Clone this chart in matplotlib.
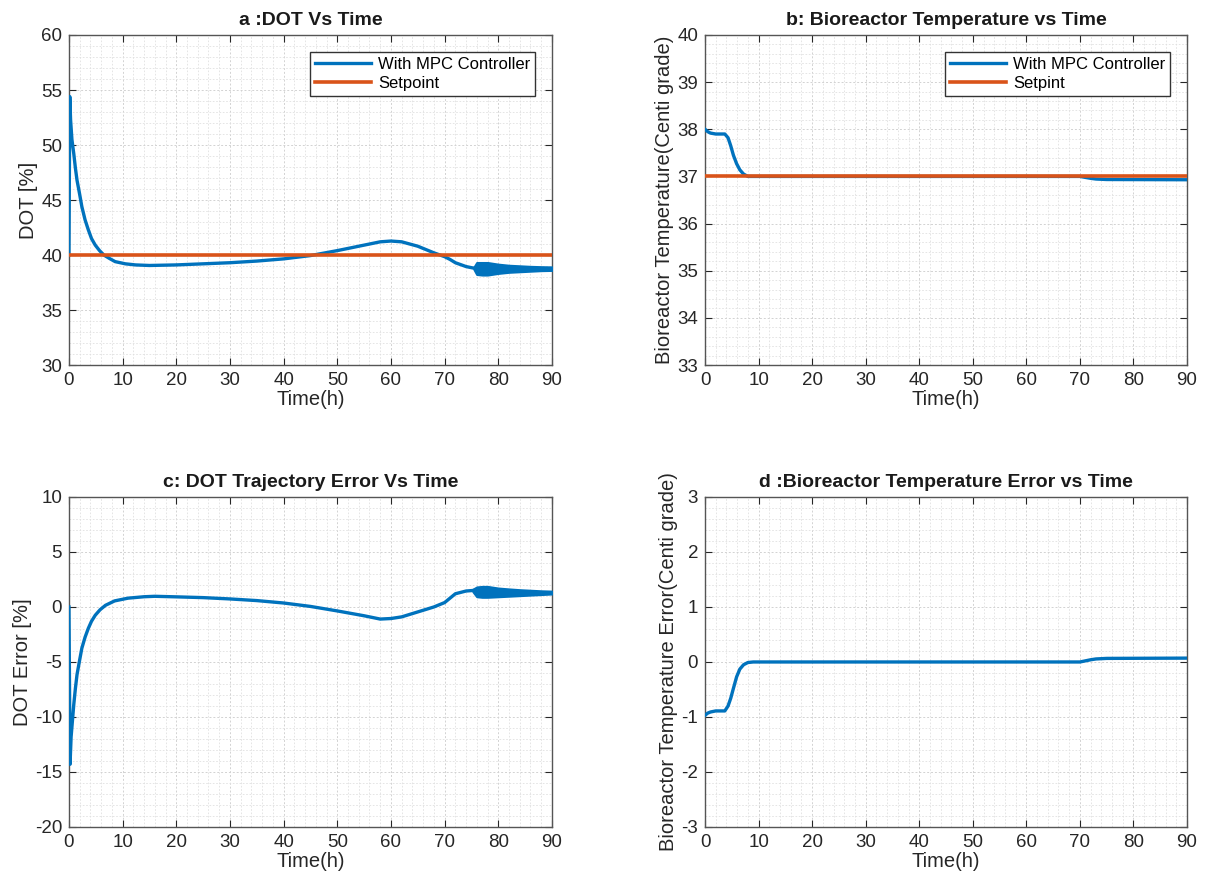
import numpy as np
import matplotlib
matplotlib.use("Agg")
import matplotlib.pyplot as plt
from matplotlib.ticker import MultipleLocator

plt.rcParams["font.family"] = ["Liberation Sans", "DejaVu Sans"]
plt.rcParams["axes.unicode_minus"] = False

BLUE = "#0072BD"
ORANGE = "#D95319"

# a : DOT vs time
dot_time = [0, 0.15, 0.3, 0.55, 0.9, 1.2, 1.5, 2.0, 2.4, 3.0, 3.6, 4.2, 4.9, 5.7, 6.5, 7.5,
            8.6, 10.5, 12.4, 15, 20, 25, 30, 35, 40, 45, 50, 55, 58, 60, 62, 65, 68, 70,
            71, 72, 74, 75.5]
dot_values = [40, 54.4, 52.3, 50.5, 49.2, 47.9, 46.8, 45.5, 44.4, 43.2, 42.3, 41.5, 40.9,
              40.4, 40.0, 39.7, 39.4, 39.2, 39.1, 39.05, 39.1, 39.2, 39.3, 39.45, 39.65,
              39.95, 40.4, 40.9, 41.2, 41.27, 41.2, 40.8, 40.2, 39.85, 39.6, 39.3, 38.95, 38.8]
# oscillating part after ~75 h (envelope of the noisy band)
dot_band_time = [75.5, 76, 77, 78, 80, 82, 84, 86, 88, 90]
dot_band_low = [38.7, 38.25, 38.2, 38.2, 38.35, 38.45, 38.5, 38.55, 38.6, 38.62]
dot_band_high = [38.9, 39.3, 39.3, 39.3, 39.15, 39.05, 39.0, 38.95, 38.92, 38.9]
dot_setpoint = 40

# b : temperature vs time
temp_time = [0, 0.5, 1, 2, 3.7, 4.3, 4.8, 5.3, 5.9, 6.5, 7.2, 8.0, 9, 70, 71, 72, 73, 75, 90]
temp_values = [38.0, 37.95, 37.92, 37.9, 37.9, 37.82, 37.65, 37.45, 37.27, 37.14, 37.05, 37.0,
               37.0, 37.0, 36.98, 36.96, 36.945, 36.935, 36.93]
temp_setpoint = 37

# c : DOT error vs time
err_time = [0, 0.2, 0.4, 0.9, 1.2, 1.5, 2.0, 2.4, 3.0, 3.6, 4.2, 4.9, 5.8, 6.8, 8.5, 11, 14,
            16, 20, 25, 30, 35, 40, 45, 50, 55, 58, 60, 62, 65, 68, 70, 71, 72, 74, 75.3]
err_values = [0, -14.3, -11.8, -8.85, -7.4, -6.15, -4.8, -3.75, -2.75, -1.95, -1.3, -0.75,
              -0.25, 0.15, 0.55, 0.8, 0.93, 0.97, 0.92, 0.85, 0.73, 0.58, 0.36, 0.05, -0.36,
              -0.8, -1.1, -1.05, -0.9, -0.45, 0.0, 0.4, 0.8, 1.2, 1.45, 1.5]
err_band_time = [75.3, 76, 77, 78, 80, 82, 84, 86, 88, 90]
err_band_low = [1.4, 0.95, 0.9, 0.9, 0.95, 1.0, 1.05, 1.1, 1.15, 1.2]
err_band_high = [1.6, 1.8, 1.85, 1.85, 1.7, 1.62, 1.55, 1.5, 1.45, 1.42]

# d : temperature error vs time
terr_time = [0, 0.5, 1, 2, 3.7, 4.3, 4.8, 5.3, 5.9, 6.5, 7.2, 8, 9, 70, 71, 72, 73, 75, 90]
terr_values = [-0.97, -0.93, -0.91, -0.89, -0.89, -0.8, -0.66, -0.48, -0.27, -0.13, -0.05,
               -0.01, 0, 0, 0.02, 0.04, 0.055, 0.065, 0.07]


def style_axes(ax, ylim, ymajor, yminor, title, ylabel):
    ax.set_xlim(0, 90)
    ax.set_ylim(*ylim)
    ax.xaxis.set_major_locator(MultipleLocator(10))
    ax.xaxis.set_minor_locator(MultipleLocator(2))
    ax.yaxis.set_major_locator(MultipleLocator(ymajor))
    ax.yaxis.set_minor_locator(MultipleLocator(yminor))
    ax.grid(which="major", color="#d2d2d2", linestyle=(0, (2, 2)), linewidth=0.7)
    ax.grid(which="minor", color="#e0e0e0", linestyle=(0, (2, 2)), linewidth=0.6)
    ax.set_axisbelow(True)
    ax.tick_params(which="major", direction="in", length=5, width=0.8, top=True, right=True,
                   labelsize=13.5, colors="#262626", pad=5)
    ax.tick_params(which="minor", length=0, top=True, right=True)
    for s in ax.spines.values():
        s.set_color("#555555")
        s.set_linewidth(1.0)
    ax.set_title(title, fontsize=14, fontweight="bold", color="#1a1a1a", pad=7)
    ax.set_xlabel("Time(h)", fontsize=14.5, color="#262626", labelpad=1)
    ax.set_ylabel(ylabel, fontsize=14.5, color="#262626", labelpad=2)


fig = plt.figure(figsize=(12.12, 8.86), dpi=100)
ax_a = fig.add_axes([0.0569, 0.588, 0.3985, 0.3725])
ax_b = fig.add_axes([0.5817, 0.588, 0.3977, 0.3725])
ax_c = fig.add_axes([0.0569, 0.0666, 0.3985, 0.3725])
ax_d = fig.add_axes([0.5817, 0.0666, 0.3977, 0.3725])

# a
ax_a.plot(dot_time, dot_values, color=BLUE, lw=2.4, label="With MPC Controller", zorder=3)
ax_a.fill_between(dot_band_time, dot_band_low, dot_band_high, color=BLUE, lw=1.8,
                  edgecolor=BLUE, zorder=3)
ax_a.axhline(dot_setpoint, color=ORANGE, lw=2.6, label="Setpoint", zorder=4)
style_axes(ax_a, (30, 60), 5, 1, "a :DOT Vs Time", "DOT [%]")

# b
ax_b.plot(temp_time, temp_values, color=BLUE, lw=2.4, label="With MPC Controller", zorder=3)
ax_b.axhline(temp_setpoint, color=ORANGE, lw=2.6, label="Setpint", zorder=4)
style_axes(ax_b, (33, 40), 1, 0.2, "b: Bioreactor Temperature vs Time",
           "Bioreactor Temperature(Centi grade)")

# c
ax_c.plot(err_time, err_values, color=BLUE, lw=2.4, zorder=3)
ax_c.fill_between(err_band_time, err_band_low, err_band_high, color=BLUE, lw=1.8,
                  edgecolor=BLUE, zorder=3)
style_axes(ax_c, (-20, 10), 5, 1, "c: DOT Trajectory Error Vs Time", "DOT Error [%]")

# d
ax_d.plot(terr_time, terr_values, color=BLUE, lw=2.4, zorder=3)
style_axes(ax_d, (-3, 3), 1, 0.2, "d :Bioreactor Temperature Error vs Time",
           "Bioreactor Temperature Error(Centi grade)")

for ax in (ax_a, ax_b):
    leg = ax.legend(loc="upper right", fontsize=12, fancybox=False, framealpha=1,
                    edgecolor="#333333", handlelength=3.4, borderaxespad=1.0,
                    borderpad=0.3, labelspacing=0.25, handletextpad=0.4)
    leg.get_frame().set_linewidth(1.0)

fig.savefig("out.png", dpi=100)
